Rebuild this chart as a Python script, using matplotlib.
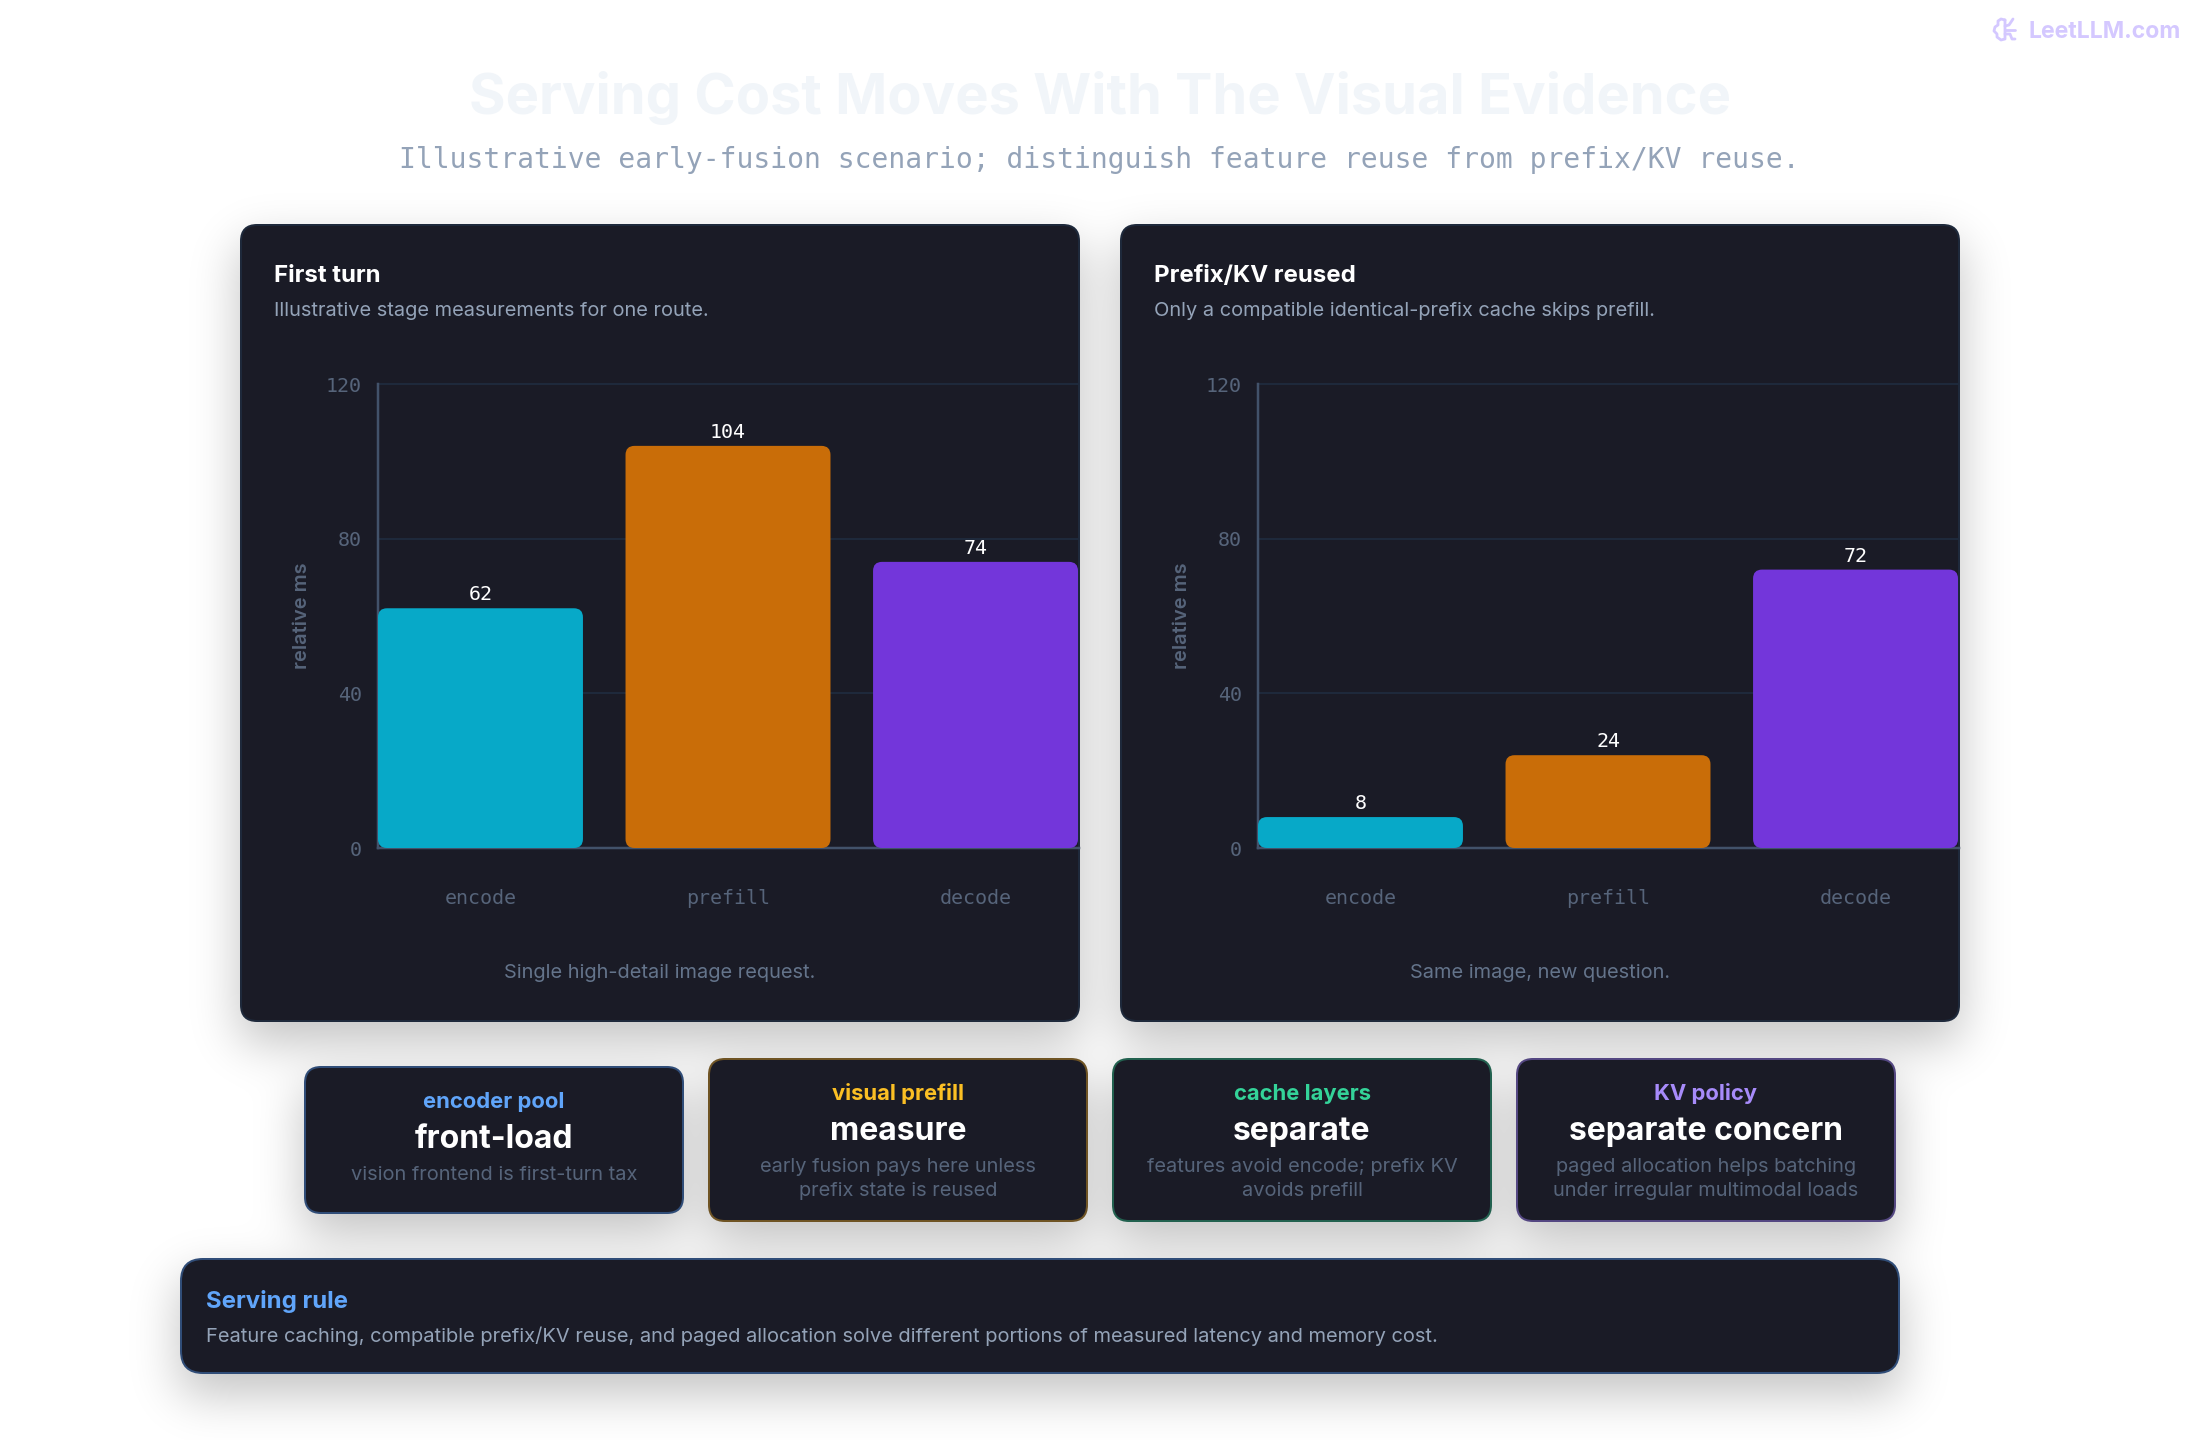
import numpy as np
import matplotlib
matplotlib.use('Agg')
import matplotlib.pyplot as plt
from matplotlib.patches import FancyBboxPatch

W, H = 2200, 1440
PX = 0.72  # points per pixel at dpi 100

stages = ['encode', 'prefill', 'decode']
first_turn = [62, 104, 74]
prefix_reused = [8, 24, 72]
y_ticks = [0, 40, 80, 120]
stage_colors = ['#07a9c8', '#c96d08', '#7336da']

panel_titles = ['First turn', 'Prefix/KV reused']
panel_subs = ['Illustrative stage measurements for one route.',
              'Only a compatible identical-prefix cache skips prefill.']
panel_notes = ['Single high-detail image request.', 'Same image, new question.']

card_heads = ['encoder pool', 'visual prefill', 'cache layers', 'KV policy']
card_titles = ['front-load', 'measure', 'separate', 'separate concern']
card_bodies = [['vision frontend is first-turn tax'],
               ['early fusion pays here unless', 'prefix state is reused'],
               ['features avoid encode; prefix KV', 'avoids prefill'],
               ['paged allocation helps batching', 'under irregular multimodal loads']]
card_accents = ['#60a5fa', '#fbbf24', '#34d399', '#a78bfa']
card_borders = ['#304d78', '#6f5424', '#22614f', '#544782']

CARD_BG = '#1a1b26'
SANS = ['Inter', 'DejaVu Sans']
MONO = ['DejaVu Sans Mono']

plt.rcParams['font.family'] = SANS

fig = plt.figure(figsize=(W / 100, H / 100), dpi=100, facecolor='white')
bg = fig.add_axes([0, 0, 1, 1])
bg.set_xlim(0, W)
bg.set_ylim(H, 0)
bg.axis('off')


def gauss_edge(n, a, b, sigma):
	# 1d blurred box, used for the soft card shadows
	xs = np.arange(n)
	t = np.arange(-int(4 * sigma), int(4 * sigma) + 1)
	k = np.exp(-t ** 2 / (2 * sigma ** 2))
	k = k / k.sum()
	box = ((xs >= a) & (xs < b)).astype(float)
	return np.convolve(box, k, mode='same')


def shadow(box, dy, sigma, alpha):
	x0, y0, x1, y1 = box
	return alpha * np.outer(gauss_edge(H, y0 + dy, y1 + dy, sigma), gauss_edge(W, x0, x1, sigma))


def card(box, edge, radius=16, lw=2):
	x0, y0, x1, y1 = box
	bg.add_patch(FancyBboxPatch((x0, y0), x1 - x0, y1 - y0, boxstyle='round,pad=0,rounding_size=%d' % radius,
	                            fc=CARD_BG, ec=edge, lw=lw * PX, zorder=2))


def txt(x, y, s, px, color, weight='normal', ha='left', family=None):
	return bg.text(x, y, s, fontsize=px * PX, color=color, fontweight=weight, ha=ha, va='baseline',
	               family=family or SANS, zorder=3)


panel_boxes = [(241, 225, 1079, 1021), (1121, 225, 1959, 1021)]
small_boxes = [(305, 1067, 683, 1213), (709, 1059, 1087, 1221), (1113, 1059, 1491, 1221), (1517, 1059, 1895, 1221)]
rule_box = (181, 1259, 1899, 1373)

# shadows stack, so they are summed and drawn as one black layer
dark = np.zeros((H, W))
for b in panel_boxes + small_boxes + [rule_box]:
	dark = dark + shadow(b, 20, 24, 0.27)
layer = np.zeros((H, W, 4))
layer[..., 3] = 1 - np.exp(-dark)
bg.imshow(layer, extent=(0, W, H, 0), aspect='auto', zorder=1, interpolation='nearest')
bg.set_xlim(0, W)
bg.set_ylim(H, 0)

# header
txt(1100, 114, 'Serving Cost Moves With The Visual Evidence', 56, '#f1f5f9', 'bold', 'center')
txt(1099, 168, 'Illustrative early-fusion scenario; distinguish feature reuse from prefix/KV reuse.', 28,
    '#94a3b8', ha='center', family=MONO)

# logo mark
logo = '#d4c8ff'
lobes = [([2005, 2001, 1998, 1998, 1995, 1994, 1997, 1997, 2001, 2005, 2005],
          [20, 19, 21, 25, 27, 31, 34, 37, 40, 39, 20]),
         ([2005, 2009, 2013], [26, 25, 19]), ([2005, 2015], [30, 30]), ([2005, 2010, 2012, 2015], [34, 34, 39, 39])]
for lx, ly in lobes:
	bg.plot(lx, ly, color=logo, lw=2.8 * PX, solid_capstyle='round', solid_joinstyle='round', zorder=3)
txt(2028, 38, 'LeetLLM.com', 23, logo, 'bold')


def draw_panel(i, values):
	box = panel_boxes[i]
	card(box, '#1e293b')
	txt(box[0] + 33, 282, panel_titles[i], 24, 'white', 'bold')
	txt(box[0] + 33, 316, panel_subs[i], 20, '#94a3b8')
	txt((box[0] + box[2]) / 2, 978, panel_notes[i], 20, '#64748b', ha='center')

	left = box[0] + 137
	ax = fig.add_axes([left / W, 1 - 848 / H, 701 / W, 464 / H], facecolor='none')
	ax.set_zorder(2)
	ax.set_xlim(-0.414, 2.418)
	ax.set_ylim(0, 120)
	for s in ['top', 'right']:
		ax.spines[s].set_visible(False)
	for s in ['left', 'bottom']:
		ax.spines[s].set_color('#42526a')
		ax.spines[s].set_linewidth(2.5 * PX)
	ax.set_yticks(y_ticks)
	ax.set_xticks(range(len(stages)))
	ax.set_xticklabels(stages)
	ax.tick_params(axis='y', length=0, pad=16 * PX, labelsize=20 * PX, labelcolor='#56647a')
	ax.tick_params(axis='x', length=0, pad=41 * PX, labelsize=20 * PX, labelcolor='#56647a')
	for t in ax.get_xticklabels() + ax.get_yticklabels():
		t.set_family(MONO)
	ax.grid(axis='y', color='#1e293b', lw=2 * PX)
	for g in ax.get_ygridlines():
		g.set_clip_on(False)
	ax.set_axisbelow(True)
	ax.set_ylabel('relative ms', fontsize=20 * PX, color='#56647a', fontweight='semibold')
	ax.yaxis.set_label_coords(-67 / 701, 0.5)

	x_unit = 701 / 2.832
	y_unit = 464 / 120
	for j, v in enumerate(values):
		ax.add_patch(FancyBboxPatch((j - 0.414, 0), 0.828, v, boxstyle='round,pad=0,rounding_size=%f' % (9 / x_unit),
		                            mutation_aspect=x_unit / y_unit, fc=stage_colors[j], ec='none', zorder=3))
		ax.annotate(str(v), (j, v), xytext=(0, 8 * PX), textcoords='offset points', ha='center', va='baseline',
		            fontsize=20 * PX, color='white', family=MONO, zorder=4)


draw_panel(0, first_turn)
draw_panel(1, prefix_reused)

# summary cards along the bottom
for i, b in enumerate(small_boxes):
	card(b, card_borders[i], radius=16)
	cx = (b[0] + b[2]) / 2
	top = b[1]
	txt(cx, top + 41, card_heads[i], 22, card_accents[i], 'bold', 'center')
	txt(cx, top + 81, card_titles[i], 32, 'white', 'bold', 'center')
	for k, line in enumerate(card_bodies[i]):
		txt(cx, top + 113 + 24 * k, line, 20, '#56647a', ha='center')

card(rule_box, '#304d78', radius=22)
txt(206, 1308, 'Serving rule', 24, '#60a5fa', 'bold')
txt(206, 1342, 'Feature caching, compatible prefix/KV reuse, and paged allocation solve different portions of measured latency and memory cost.',
    20.07, '#94a3b8')

fig.savefig('out.png', dpi=100, facecolor='white')
